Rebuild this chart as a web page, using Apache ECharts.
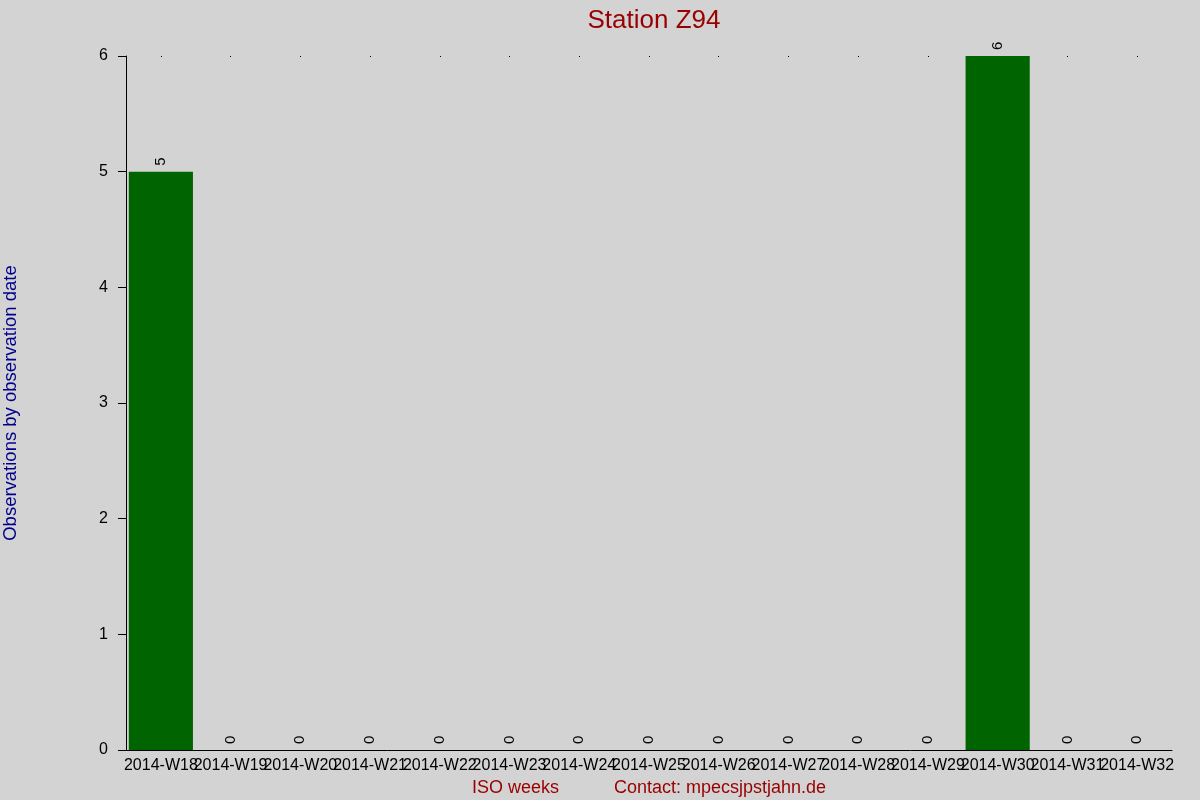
<!DOCTYPE html>
<html>
<head>
<meta charset="utf-8">
<script src="https://cdn.jsdelivr.net/npm/echarts@6/dist/echarts.min.js"></script>
<style>
html,body{margin:0;padding:0;background:#d3d3d3;}
#chart{width:1200px;height:800px;}
</style>
</head>
<body>
<div id="chart"></div>
<script>
const categories = ['2014-W18','2014-W19','2014-W20','2014-W21','2014-W22','2014-W23','2014-W24','2014-W25','2014-W26','2014-W27','2014-W28','2014-W29','2014-W30','2014-W31','2014-W32'];
const observations = [5,0,0,0,0,0,0,0,0,0,0,0,6,0,0];
const yTicks = [0,1,2,3,4,5,6];

const chart = echarts.init(document.getElementById('chart'));
const font = 'Liberation Sans, Arial, sans-serif';
chart.setOption({
  backgroundColor: '#d3d3d3',
  animation: false,
  textStyle: {fontFamily: font},
  title: {
    text: 'Station Z94',
    left: 649, textAlign: 'center', top: 3,
    textStyle: {color: '#990000', fontSize: 26, fontWeight: 'normal', fontFamily: font}
  },
  grid: {left: 126, right: 28, top: 56, bottom: 50, containLabel: false, outerBoundsMode: 'none'},
  xAxis: [{
    type: 'category',
    data: categories,
    axisLine: {lineStyle: {color: '#000', width: 1}},
    axisTick: {show: false},
    axisLabel: {interval: 0, color: '#000', fontSize: 16, margin: 8, fontFamily: font},
    name: 'ISO weeks           Contact: mpecsjpstjahn.de',
    nameLocation: 'middle',
    nameGap: 29,
    nameTextStyle: {color: '#990000', fontSize: 18, fontFamily: font}
  }, {
    type: 'category',
    data: categories,
    position: 'top',
    axisLine: {show: false},
    axisTick: {show: true, interval: 0, alignWithLabel: true, length: 1, inside: true, lineStyle: {color: '#000', width: 1}},
    axisLabel: {show: false, interval: 0}
  }],
  yAxis: {
    type: 'value',
    min: yTicks[0], max: yTicks[yTicks.length - 1], interval: 1,
    axisLine: {show: true, lineStyle: {color: '#000', width: 1}},
    axisTick: {show: true, length: 8, lineStyle: {color: '#000', width: 1}},
    splitLine: {show: false},
    axisLabel: {color: '#000', fontSize: 16, margin: 18, fontFamily: font},
    name: 'Observations by observation date',
    nameLocation: 'middle',
    nameGap: 106,
    nameTextStyle: {color: '#00008b', fontSize: 18.5, fontFamily: font}
  },
  series: [{
    type: 'bar',
    data: observations,
    barCategoryGap: '8%',
    itemStyle: {color: '#006400'},
    label: {
      show: true, position: 'top', rotate: 90, align: 'left', verticalAlign: 'middle',
      distance: 6, color: '#000', fontSize: 15, fontFamily: font
    }
  }]
});
</script>
</body>
</html>
